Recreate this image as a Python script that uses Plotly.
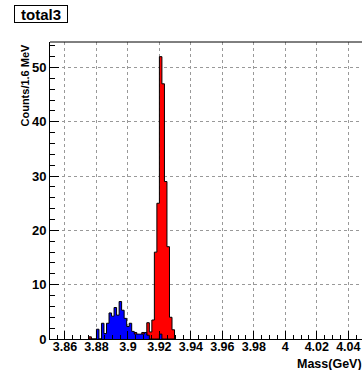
import numpy as np
import plotly.graph_objects as go

# ---- data ----
bin_width = 0.0016          # 1.6 MeV bins
first_edge = 3.8752         # low edge of first listed bin (GeV)
red_counts = [0.4, 0, 0, 0, 0, 0, 0, 0, 0, 0, 0, 0, 0, 0, 0, 0, 0, 0,
              1.2, 0, 0, 1.2, 0, 3, 1.3, 3.5, 16, 25, 52, 47, 29, 17, 4, 1.7]
blue_counts = [0, 0, 0, 1.8, 0, 2.9, 1, 2.9, 4.8, 4.2, 5.8, 4.4, 6.9, 5.3, 3.8, 2.3, 2.9, 1.4,
               0.9, 0.9, 0.9, 0.9, 1.2, 0.7, 0, 0, 0, 0, 0.9, 0, 0, 0, 0, 0]
x_tick_vals = [3.86, 3.88, 3.90, 3.92, 3.94, 3.96, 3.98, 4.00, 4.02, 4.04]
x_tick_labels = ["3.86", "3.88", "3.9", "3.92", "3.94", "3.96", "3.98", "4", "4.02", "4.04"]
y_tick_vals = [0, 10, 20, 30, 40, 50]
y_tick_labels = ["0", "10", "20", "30", "40", "50"]
title_text = "total3"
x_title = "Mass(GeV)"
y_title = "Counts/1.6 MeV"

FONT = "Liberation Sans, Arial, Helvetica, sans-serif"


def step_xy(counts):
    n = len(counts)
    edges = first_edge + bin_width * np.arange(n + 1)
    xs = [edges[0]] + list(edges[:n]) + [edges[n]]
    ys = [0] + list(counts) + [0]
    return xs, ys


fig = go.Figure()
for counts, col in [(red_counts, "#ff0000"), (blue_counts, "#0000ff")]:
    xs, ys = step_xy(counts)
    fig.add_trace(go.Scatter(x=xs, y=ys, mode="lines", line=dict(shape="hv", color="black", width=1),
                             fill="tozeroy", fillcolor=col, hoverinfo="skip", showlegend=False))

fig.update_layout(
    width=362, height=370,
    margin=dict(l=50, r=0, t=42, b=31),
    paper_bgcolor="white", plot_bgcolor="white",
    font=dict(family=FONT, color="black"),
    showlegend=False,
)

fig.update_xaxes(
    range=[3.8505, 4.0487], showline=True, linecolor="black", linewidth=1,
    tickmode="array", tickvals=x_tick_vals, ticktext=x_tick_labels,
    ticks="inside", ticklen=8, tickcolor="black", tickwidth=1,
    tickfont=dict(size=12.5, family=FONT, weight="bold"), ticklabelstandoff=-4,
    showgrid=True, gridcolor="#999999", griddash="dot", gridwidth=1,
    zeroline=False,
    minor=dict(tickmode="linear", tick0=3.85, dtick=0.005, ticks="inside", ticklen=4,
               tickcolor="black", showgrid=False),
)
fig.update_yaxes(
    range=[0, 54.7], showline=True, linecolor="black", linewidth=1,
    tickmode="array", tickvals=y_tick_vals, ticktext=y_tick_labels,
    ticks="inside", ticklen=9, tickcolor="black", tickwidth=1,
    tickfont=dict(size=13, family=FONT, weight="bold"),
    showgrid=True, gridcolor="#999999", griddash="dot", gridwidth=1,
    zeroline=False,
    minor=dict(tickmode="linear", tick0=0, dtick=2, ticks="inside", ticklen=5,
               tickcolor="black", showgrid=False),
)

# top frame line
fig.add_shape(type="line", xref="paper", yref="paper", x0=0, x1=1, y0=1, y1=1,
              line=dict(color="black", width=1))

fig.add_annotation(text=title_text, xref="paper", yref="paper", x=(14 - 50) / 312, y=1,
                   xanchor="left", yanchor="bottom", yshift=19, showarrow=False,
                   width=52, height=16, align="center",
                   font=dict(size=15, family=FONT, weight="bold"),
                   bordercolor="black", borderwidth=1, bgcolor="white", borderpad=0)
fig.add_annotation(text=x_title, xref="paper", yref="paper", x=1, y=0, xanchor="right", yanchor="top",
                   yshift=-16, xshift=2, showarrow=False, font=dict(size=12.5, family=FONT, weight="bold"))
fig.add_annotation(text=y_title, xref="paper", yref="paper", x=0, y=1, xanchor="center", yanchor="top",
                   xshift=-26, textangle=-90, showarrow=False,
                   font=dict(size=11, family=FONT, weight="bold"))

fig.write_html("out.html", config={"displayModeBar": False},
               post_script="document.body.style.margin='0px';")
